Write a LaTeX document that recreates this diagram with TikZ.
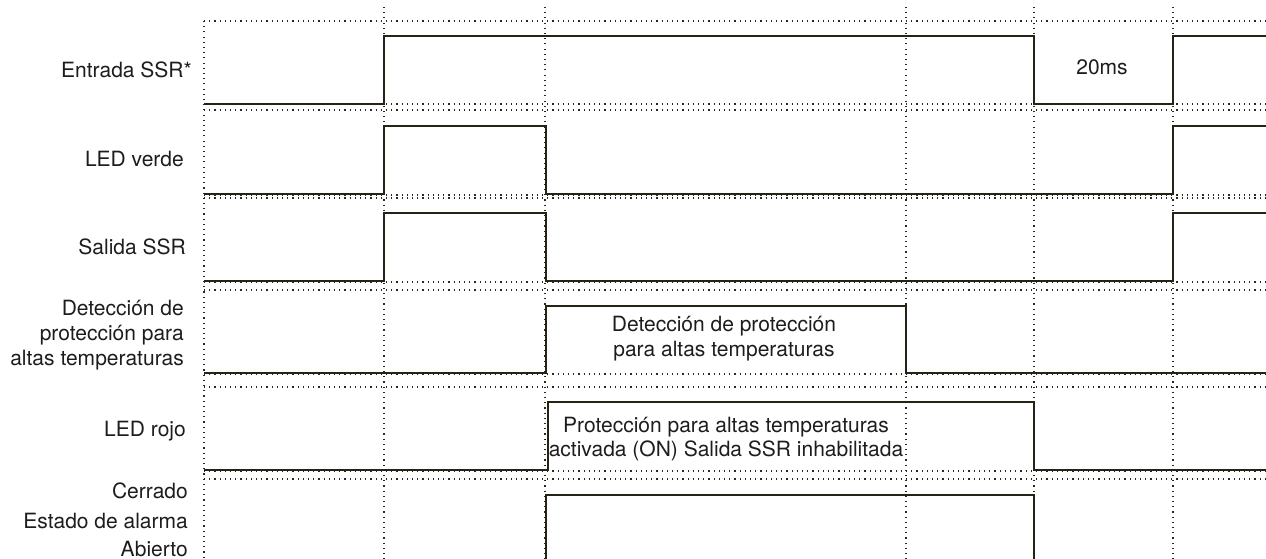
\documentclass[tikz,border=0pt]{standalone}
\usepackage{fontspec}
\setmainfont{TeX Gyre Heros}
\definecolor{sig}{RGB}{38,35,22}
\definecolor{txt}{RGB}{30,28,28}
\definecolor{dotc}{RGB}{40,40,30}
\begin{document}
\begin{tikzpicture}[x=1pt,y=-1pt,
  signal/.style={line width=2.7pt, draw=sig, line join=miter},
  gridline/.style={line width=1.1pt, draw=dotc, dash pattern=on 1.1pt off 4.1pt},
  lbl/.style={anchor=base east, inner sep=0pt, text=txt, font=\fontsize{21}{24}\selectfont},
  inlbl/.style={anchor=base, inner sep=0pt, text=txt, font=\fontsize{21}{24}\selectfont}]
\useasboundingbox (0,0) rectangle (1266,559);

% horizontal dotted grid
\foreach \yy in {21,104,110,195,198,282,290,374,387,471,479}
  \draw[gridline] (204,\yy) -- (1266,\yy);
% vertical dotted grid
\draw[gridline] (204,21) -- (204,559);
\foreach \xx in {384,545,906,1034,1173}
  \draw[gridline] (\xx,7) -- (\xx,559);

% signals
\draw[signal] (204,104) -- (384,104) -- (384,36) -- (1034,36) -- (1034,104) -- (1173,104) -- (1173,36) -- (1266,36);
\draw[signal] (204,194) -- (384,194) -- (384,126) -- (546,126) -- (546,194) -- (1173,194) -- (1173,126) -- (1266,126);
\draw[signal] (204,281) -- (384,281) -- (384,213) -- (546,213) -- (546,281) -- (1173,281) -- (1173,213) -- (1266,213);
\draw[signal] (204,373) -- (546,373) -- (546,306) -- (906,306) -- (906,373) -- (1266,373);
\draw[signal] (204,470) -- (548,470) -- (548,402) -- (1034,402) -- (1034,470) -- (1266,470);
\draw[signal] (546,560) -- (546,495) -- (1034,495) -- (1034,560);

% left labels
\node[lbl] (l1) at (192,78) {Entrada SSR*};
\node[lbl] (l2) at (184,166) {LED verde};
\node[lbl] (l3) at (186,254) {Salida SSR};
\node[lbl] (l4a) at (184,315) {Detección de};
\node[lbl] (l4b) at (184,340) {protección para};
\node[lbl] (l4c) at (184,365) {altas temperaturas};
\node[lbl] (l5) at (186,436) {LED rojo};
\node[lbl] (l6a) at (188,498) {Cerrado};
\node[lbl] (l6b) at (188,528) {Estado de alarma};
\node[lbl] (l6c) at (188,556.5) {Abierto};

% inner labels
\node[inlbl] (t20) at (1102,75) {20ms};
\node[inlbl] (d1) at (724,331) {Detección de protección};
\node[inlbl] (d2) at (724,356) {para altas temperaturas};
\node[inlbl] (p1) at (726,432) {Protección para altas temperaturas};
\node[inlbl] (p2) at (726,456) {activada (ON) Salida SSR inhabilitada};
\end{tikzpicture}
\end{document}
